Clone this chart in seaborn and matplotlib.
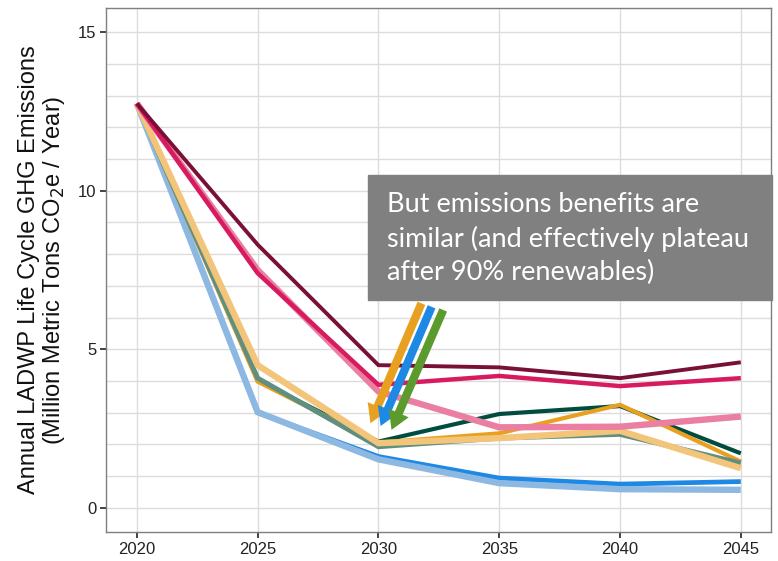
import numpy as np
import pandas as pd
import matplotlib.pyplot as plt
import seaborn as sns

years = [2020, 2025, 2030, 2035, 2040, 2045]

# scenario lines
light_blue = [12.75, 3.02, 1.53, 0.78, 0.59, 0.57]
blue = [12.75, 3.0, 1.62, 0.94, 0.75, 0.83]
tan = [12.75, 4.5, 2.04, 2.2, 2.43, 1.25]
gray_green = [12.75, 4.09, 1.93, 2.2, 2.32, 1.41]
orange = [12.75, 3.98, 2.06, 2.35, 3.25, 1.46]
dark_green = [12.75, 4.02, 2.09, 2.96, 3.21, 1.72]
pink = [12.75, 7.5, 3.67, 2.54, 2.56, 2.88]
crimson = [12.75, 7.4, 3.88, 4.16, 3.84, 4.09]
maroon = [12.75, 8.3, 4.5, 4.43, 4.09, 4.59]

# drawing order: bottom to top
series = [
    (blue, '#1E88E5', 3.4),
    (light_blue, '#8DB8E2', 4.6),
    (dark_green, '#004D40', 3.0),
    (orange, '#E8A020', 3.0),
    (gray_green, '#5F8F80', 3.6),
    (tan, '#F3C57A', 4.6),
    (pink, '#EA7FA2', 4.6),
    (crimson, '#D81B60', 3.2),
    (maroon, '#7A1037', 2.8),
]

sns.set_style('whitegrid')
plt.rcParams['font.family'] = ['Liberation Sans', 'DejaVu Sans']

fig = plt.figure(figsize=(7.78, 5.61), dpi=100)
ax = fig.add_axes([0.1362, 0.0517, 0.8548, 0.934])

for values, color, lw in series:
    df = pd.DataFrame({'year': years, 'emissions': values})
    sns.lineplot(data=df, x='year', y='emissions', color=color, linewidth=lw,
                 ax=ax, solid_joinstyle='miter', solid_capstyle='butt')

ax.set_xlim(2018.72, 2046.25)
ax.set_ylim(-0.76, 15.76)
ax.set_xticks(years)
ax.set_yticks([0, 5, 10, 15])
ax.set_yticks(np.arange(0, 16, 1), minor=True)
ax.grid(True, which='both', axis='y', color='#DCDCDC', linewidth=1.0)
ax.grid(True, which='major', axis='x', color='#DCDCDC', linewidth=1.0)
ax.tick_params(axis='both', which='major', length=4, width=1.2, color='#222222',
               labelsize=12, labelcolor='#222222', left=True, bottom=True, pad=3)
ax.tick_params(axis='y', which='minor', length=0)
for sp in ax.spines.values():
    sp.set_color('#7F7F7F')
    sp.set_linewidth(1.0)

ax.set_xlabel('')
ax.set_ylabel('Annual LADWP Life Cycle GHG Emissions\n(Million Metric Tons CO$_2$e / Year)',
              fontsize=17, color='#111111', labelpad=8, linespacing=1.05)

# callout box
fig.patches.append(plt.Rectangle((368 / 778, 1 - 300 / 561), (772 - 368) / 778, 125 / 561,
                                 transform=fig.transFigure, color='#808080', zorder=5))
fig.text(387 / 778, 1 - 192 / 561,
         'But emissions benefits are\nsimilar (and effectively plateau\nafter 90% renewables)',
         fontsize=19.5, color='white', family=['Lato', 'DejaVu Sans'],
         va='top', ha='left', linespacing=1.42, zorder=6)

arrows = [
    ('#E8A020', (2031.78, 6.45), (2029.67, 2.67)),
    ('#1E88E5', (2032.20, 6.34), (2030.09, 2.58)),
    ('#5B9A2C', (2032.68, 6.24), (2030.54, 2.46)),
]
for color, tail, tip in arrows:
    ax.annotate('', xy=tip, xytext=tail,
                arrowprops=dict(arrowstyle='simple,head_length=1.1,head_width=1.3,tail_width=0.5',
                                color=color, lw=0, mutation_scale=12, shrinkA=0, shrinkB=0),
                zorder=7)

fig.savefig('out.png', dpi=100)
